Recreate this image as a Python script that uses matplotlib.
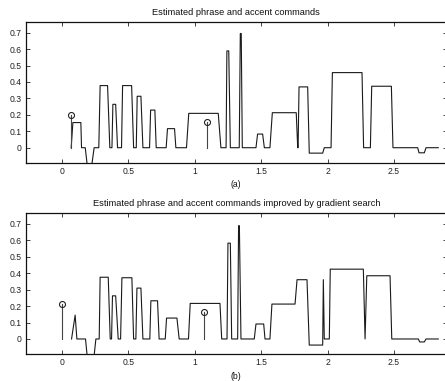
import matplotlib
matplotlib.use("Agg")
import matplotlib.pyplot as plt

plt.rcParams['font.family'] = ['Liberation Sans', 'DejaVu Sans']

# Panel (a): estimated commands (polyline breakpoints)
a_x = [0.070, 0.083, 0.143, 0.148, 0.176, 0.19, 0.226, 0.243, 0.278, 0.288, 0.344, 0.361,
       0.377, 0.384, 0.405, 0.419, 0.449, 0.457, 0.525, 0.540, 0.560, 0.567, 0.595, 0.610,
       0.660, 0.668, 0.700, 0.710, 0.785, 0.795, 0.848, 0.858, 0.938, 0.955, 1.177, 1.197,
       1.236, 1.242, 1.256, 1.268, 1.335, 1.343, 1.350, 1.358, 1.461, 1.473, 1.511, 1.524,
       1.566, 1.584, 1.764, 1.775, 1.778, 1.785, 1.850, 1.862, 1.963, 1.975, 2.026, 2.036,
       2.259, 2.271, 2.322, 2.332, 2.480, 2.492, 2.678, 2.688, 2.728, 2.741, 2.833]
a_y = [0, 0.153, 0.153, 0, 0, -0.1, -0.1, 0, 0, 0.378, 0.378, 0,
       0, 0.264, 0.264, 0, 0, 0.378, 0.378, 0, 0, 0.313, 0.313, 0,
       0, 0.229, 0.229, 0, 0, 0.116, 0.116, 0, 0, 0.209, 0.209, 0,
       0, 0.589, 0.589, 0, 0, 0.695, 0.695, 0, 0, 0.083, 0.083, 0,
       0, 0.213, 0.213, 0, 0, 0.370, 0.370, -0.033, -0.033, 0, 0, 0.457,
       0.457, 0, 0, 0.374, 0.374, 0, 0, -0.031, -0.031, 0, 0]
a_stem_x = [0.068, 1.09]
a_stem_y = [0.196, 0.158]

# Panel (b): improved by gradient search
b_x = [0.073, 0.100, 0.113, 0.178, 0.19, 0.243, 0.256, 0.281, 0.288, 0.349, 0.364,
       0.374, 0.381, 0.405, 0.424, 0.442, 0.452, 0.527, 0.540, 0.557, 0.565, 0.595, 0.610,
       0.662, 0.670, 0.720, 0.732, 0.778, 0.788, 0.866, 0.883, 0.953, 0.966, 1.190, 1.203,
       1.243, 1.250, 1.268, 1.278, 1.323, 1.330, 1.336, 1.348, 1.448, 1.461, 1.519, 1.529,
       1.566, 1.581, 1.755, 1.770, 1.845, 1.862, 1.963, 1.968, 1.975, 2.013, 2.020,
       2.269, 2.282, 2.295, 2.470, 2.483, 2.683, 2.693, 2.728, 2.741, 2.833]
b_y = [0, 0.145, 0, 0, -0.1, -0.1, 0, 0, 0.375, 0.375, 0,
       0, 0.262, 0.262, 0, 0, 0.372, 0.372, 0, 0, 0.309, 0.309, 0,
       0, 0.232, 0.232, 0, 0, 0.127, 0.127, 0, 0, 0.216, 0.216, 0,
       0, 0.582, 0.582, 0, 0, 0.688, 0.688, 0, 0, 0.091, 0.091, 0,
       0, 0.212, 0.212, 0.360, 0.360, -0.037, -0.037, 0.360, 0, 0, 0.424,
       0.424, 0, 0.384, 0.384, 0, 0, -0.018, -0.018, 0, 0]
b_stem_x = [0.0, 1.072]
b_stem_y = [0.21, 0.163]

titles = ["Estimated phrase and accent commands",
          "Estimated phrase and accent commands improved by gradient search"]
labels = ["(a)", "(b)"]
xticks = [0, 0.5, 1, 1.5, 2, 2.5]
xticklabels = ["0", "0.5", "1", "1.5", "2", "2.5"]
yticks = [0, 0.1, 0.2, 0.3, 0.4, 0.5, 0.6, 0.7]
yticklabels = ["0", "0.1", "0.2", "0.3", "0.4", "0.5", "0.6", "0.7"]

fig = plt.figure(figsize=(4.45, 3.81), dpi=100)
positions = [[0.0584, 0.5722, 0.945, 0.3701], [0.0584, 0.0701, 0.945, 0.3708]]
data = [(a_x, a_y, a_stem_x, a_stem_y), (b_x, b_y, b_stem_x, b_stem_y)]

for pos, (xs, ys, sx, sy), title, lab in zip(positions, data, titles, labels):
    ax = fig.add_axes(pos)
    ax.plot(xs, ys, color='#1a1a1a', lw=0.8)
    for x0, y0 in zip(sx, sy):
        ax.plot([x0, x0], [0, y0], color='#444444', lw=0.8)
    ax.plot(sx, sy, 'o', mfc='none', mec='#222222', ms=4.3, mew=0.8)
    ax.set_xlim(-0.27, 2.895)
    ax.set_ylim(-0.093, 0.765)
    ax.set_xticks(xticks)
    ax.set_xticklabels(xticklabels)
    ax.set_yticks(yticks)
    ax.set_yticklabels(yticklabels)
    ax.tick_params(direction='in', length=3, width=0.6, labelsize=6.2,
                   top=True, right=True, pad=3, colors='#222222')
    for s in ax.spines.values():
        s.set_linewidth(0.9)
        s.set_color('#111111')
    ax.set_title(title, fontsize=6.7, pad=5, color='#111111')
    ax.set_xlabel(lab, fontsize=6.2, labelpad=3, color='#111111')

fig.savefig("out.png", dpi=100)
